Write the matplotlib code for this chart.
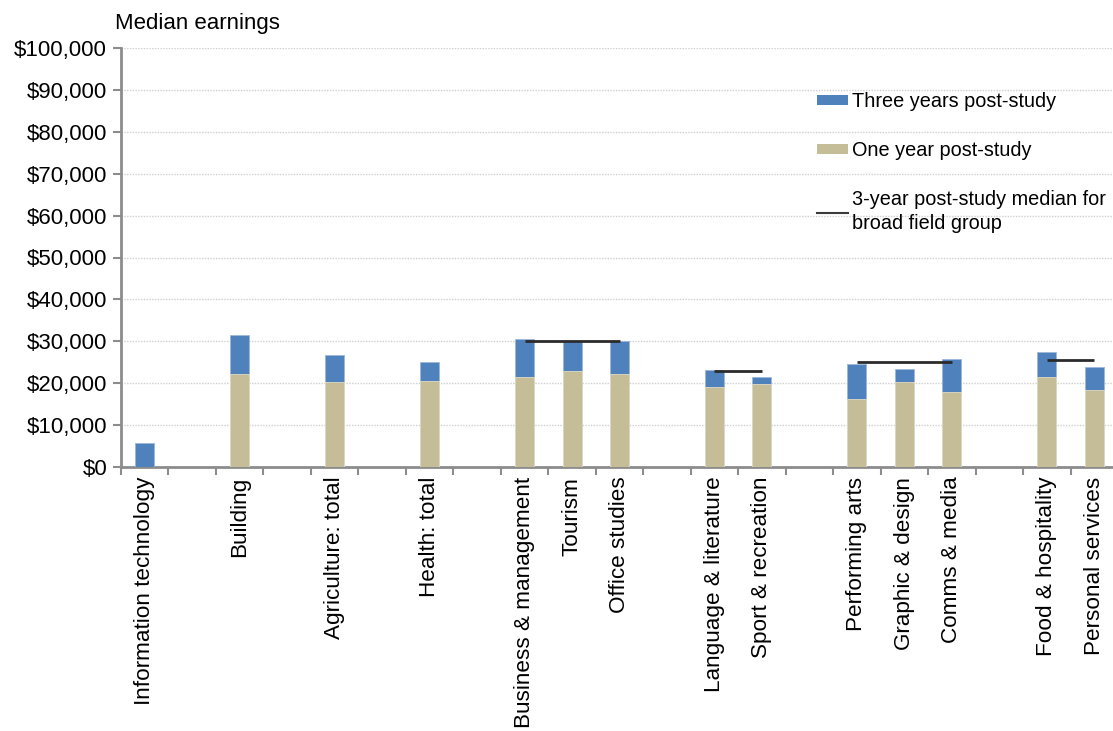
import numpy as np
import matplotlib
matplotlib.use("Agg")
import matplotlib.pyplot as plt
from matplotlib.patches import Patch
from matplotlib.lines import Line2D
from matplotlib.ticker import FuncFormatter, MultipleLocator

plt.rcParams['font.family'] = ['Liberation Sans', 'DejaVu Sans']

# Fields of study (empty strings separate the broad field groups)
categories = [
    "Information technology", "", "Building", "", "Agriculture: total", "",
    "Health: total", "", "Business & management", "Tourism", "Office studies", "",
    "Language & literature", "Sport & recreation", "", "Performing arts",
    "Graphic & design", "Comms & media", "", "Food & hospitality", "Personal services",
]

three_year = [
    5700, np.nan, 31500, np.nan, 26800, np.nan,
    25000, np.nan, 30600, 30000, 30100, np.nan,
    23100, 21500, np.nan, 24600,
    23400, 25800, np.nan, 27500, 23900,
]

one_year = [
    np.nan, np.nan, 22200, np.nan, 20300, np.nan,
    20600, np.nan, 21500, 22900, 22200, np.nan,
    19200, 19800, np.nan, 16200,
    20300, 17800, np.nan, 21500, 18300,
]

# Broad field group medians (first field, last field, 3-year median)
group_first = ["Business & management", "Language & literature", "Performing arts", "Food & hospitality"]
group_last = ["Office studies", "Sport & recreation", "Comms & media", "Personal services"]
group_median = [30000, 23000, 25000, 25500]

blue = "#4F81BD"
tan = "#C4BD97"
axis_grey = "#8C8C8C"

fig = plt.figure(figsize=(11.13, 7.31), dpi=100)
ax = fig.add_axes([121 / 1113, (731 - 467) / 731, (1118 - 121) / 1113, (467 - 48) / 731])

x = np.arange(len(categories))
width = 0.4
ax.bar(x, three_year, width, color=blue, edgecolor="#9DB7D9", linewidth=0.6, zorder=3)
ax.bar(x, one_year, width, color=tan, edgecolor="#E2DDC8", linewidth=0.6, zorder=4)

for first, last, med in zip(group_first, group_last, group_median):
    x0 = categories.index(first)
    x1 = categories.index(last)
    ax.plot([x0, x1], [med, med], color="#2B2B2B", linewidth=2, zorder=5,
            solid_capstyle="butt")

ax.set_xlim(-0.5, len(categories) - 0.5)
ax.set_ylim(0, 100000)

ax.yaxis.set_major_locator(MultipleLocator(10000))
ax.yaxis.set_major_formatter(FuncFormatter(lambda v, p: f"${v:,.0f}"))
ax.grid(axis="y", color="#CFCFCF", linestyle=(0, (1, 1)), linewidth=1, zorder=0)

ax.set_xticks(x)
ax.set_xticklabels(categories, rotation=90, fontsize=16.2)
ax.set_xticks(np.arange(-0.5, len(categories), 1), minor=True)
ax.tick_params(axis="x", which="major", length=0, pad=7)
ax.tick_params(axis="x", which="minor", length=6, width=1.5, color=axis_grey, direction="out")
ax.tick_params(axis="y", length=6, width=1.5, color=axis_grey, labelsize=16, pad=4)

for side in ("top", "right"):
    ax.spines[side].set_visible(False)
for side in ("left", "bottom"):
    ax.spines[side].set_color(axis_grey)
    ax.spines[side].set_linewidth(2)

fig.text(115 / 1113, 1 - 23 / 731, "Median earnings", fontsize=16, va="center", ha="left")

handles = [
    Patch(facecolor=blue, edgecolor="none"),
    Patch(facecolor=tan, edgecolor="none"),
    Line2D([0], [0], color="#3A3A3A", linewidth=1.5),
]
labels = [
    "Three years post-study",
    "One year post-study",
    "3-year post-study median for\nbroad field group",
]
leg = fig.legend(handles, labels, loc="upper left",
                 bbox_to_anchor=(817 / 1113, 1 - 92 / 731),
                 frameon=False, fontsize=14.3, handlelength=1.56, handleheight=0.45,
                 handletextpad=0.2, labelspacing=1.52, borderaxespad=0, borderpad=0)
for t in leg.get_texts():
    t.set_linespacing(1.3)

fig.savefig("out.png", dpi=100)
